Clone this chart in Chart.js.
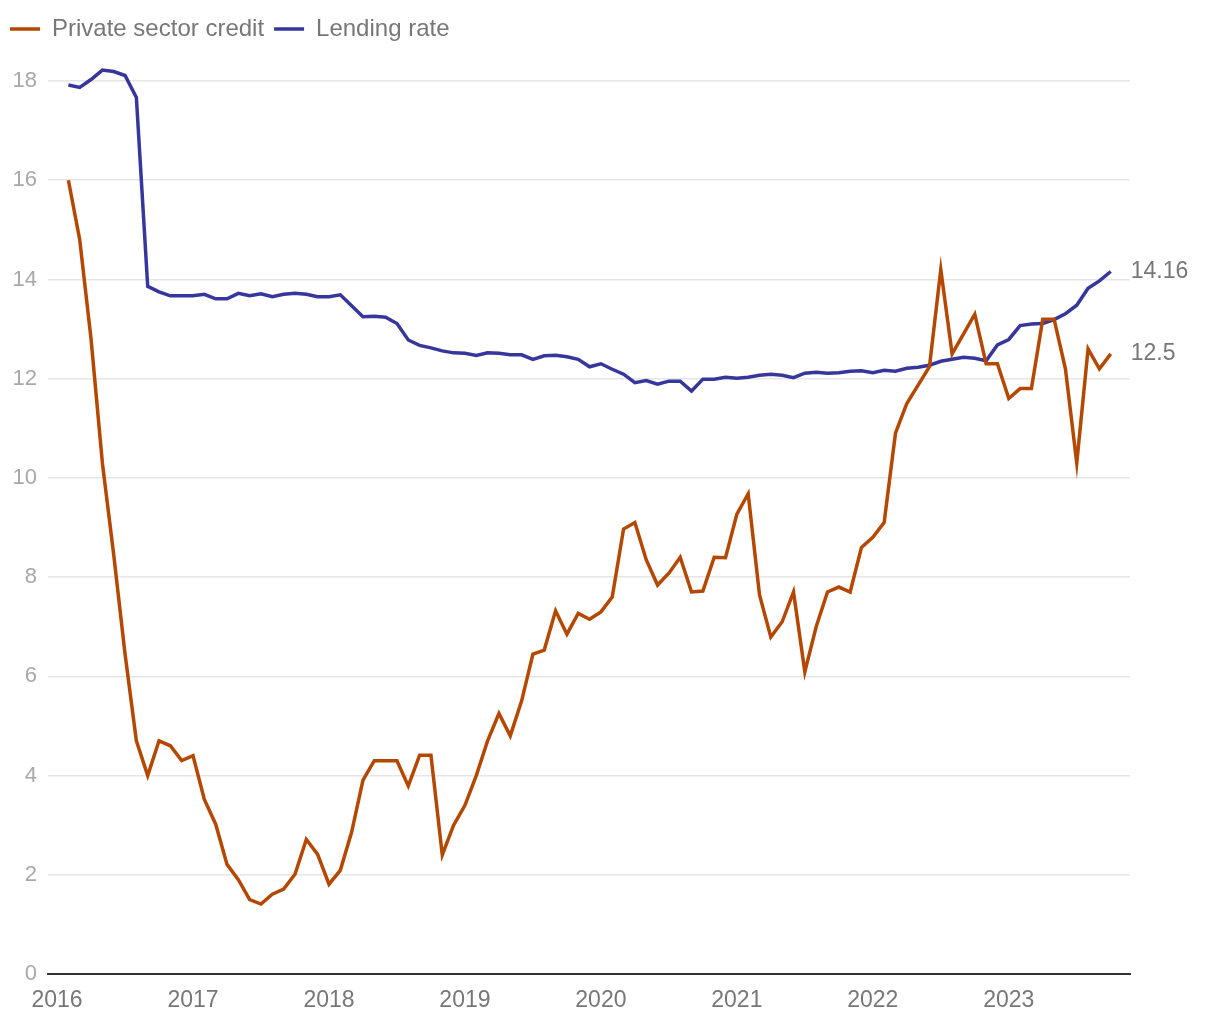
<!DOCTYPE html>
<html>
<head>
<meta charset="utf-8">
<script src="https://cdn.jsdelivr.net/npm/chart.js@4.4.1/dist/chart.umd.min.js"></script>
<style>
  html, body { margin: 0; background: #fff; }
  #wrap { width: 1220px; height: 1020px; }
</style>
</head>
<body>
<div id="wrap"><canvas id="chart"></canvas></div>
<script>
// monthly, Jan 2016 .. Sep 2023
const years = ["2016", "2017", "2018", "2019", "2020", "2021", "2022", "2023"];

const credit = [
  16.0, 14.8, 12.8, 10.3, 8.45, 6.45, 4.7, 4.0, 4.7, 4.6, 4.3, 4.4,
  3.52, 3.02, 2.21, 1.9, 1.5, 1.41, 1.61, 1.71, 2.01, 2.71, 2.41, 1.81,
  2.09, 2.86, 3.91, 4.3, 4.3, 4.3, 3.79, 4.41, 4.41, 2.4, 3.0, 3.4,
  4.0, 4.7, 5.25, 4.8, 5.5, 6.45, 6.53, 7.32, 6.85, 7.27, 7.15, 7.3,
  7.6, 8.97, 9.1, 8.35, 7.84, 8.08, 8.4, 7.7, 7.72, 8.4, 8.39, 9.27,
  9.68, 7.64, 6.79, 7.1, 7.7, 6.09, 7.0, 7.7, 7.8, 7.7, 8.6, 8.8,
  9.1, 10.9, 11.5, 11.87, 12.24, 14.2, 12.5, 12.9, 13.3, 12.3, 12.3, 11.6,
  11.8, 11.8, 13.2, 13.2, 12.2, 10.3, 12.6, 12.2, 12.5
];

const lending = [
  17.92, 17.87, 18.03, 18.22, 18.19, 18.11, 17.67, 13.86, 13.75, 13.67, 13.67, 13.67,
  13.7, 13.61, 13.61, 13.72, 13.67, 13.71, 13.65, 13.7, 13.72, 13.7, 13.65, 13.65,
  13.69, 13.47, 13.25, 13.26, 13.24, 13.11, 12.78, 12.67, 12.62, 12.56, 12.52, 12.51,
  12.47, 12.52, 12.51, 12.48, 12.48, 12.39, 12.46, 12.47, 12.44, 12.39, 12.24, 12.3,
  12.19, 12.09, 11.92, 11.96, 11.89, 11.95, 11.95, 11.75, 11.99, 11.99, 12.03, 12.01,
  12.03, 12.07, 12.09, 12.07, 12.02, 12.11, 12.13, 12.11, 12.12, 12.15, 12.16, 12.12,
  12.17, 12.15, 12.21, 12.23, 12.27, 12.35, 12.39, 12.43, 12.41, 12.36, 12.68, 12.79,
  13.07, 13.1, 13.11, 13.19, 13.31, 13.48, 13.82, 13.97, 14.16
];

const FONT = "'Liberation Sans', Arial, Helvetica, sans-serif";

// x = months since start of 2016, value sits at month end
const toPoints = (arr) => arr.map((v, i) => ({ x: i + 1, y: v }));

const legendGap = {
  id: "legendGap",
  beforeInit(chart) {
    const fit = chart.legend.fit;
    chart.legend.fit = function () {
      fit.call(this);
      this.height += 30;
    };
  }
};

const endLabels = {
  id: "endLabels",
  afterDatasetsDraw(chart) {
    const ctx = chart.ctx;
    ctx.save();
    ctx.font = "23px " + FONT;
    ctx.fillStyle = "#777";
    ctx.textBaseline = "middle";
    chart.data.datasets.forEach((ds, i) => {
      const pts = chart.getDatasetMeta(i).data;
      const last = pts[pts.length - 1];
      ctx.fillText(String(ds.data[ds.data.length - 1].y), last.x + 20, last.y);
    });
    ctx.restore();
  }
};

new Chart(document.getElementById("chart"), {
  type: "line",
  data: {
    datasets: [
      {
        label: "Private sector credit",
        data: toPoints(credit),
        borderColor: "#b54800",
        backgroundColor: "#b54800",
        borderWidth: 3.5,
        pointRadius: 0,
        tension: 0,
        clip: false
      },
      {
        label: "Lending rate",
        data: toPoints(lending),
        borderColor: "#36369c",
        backgroundColor: "#36369c",
        borderWidth: 3.5,
        pointRadius: 0,
        tension: 0,
        clip: false
      }
    ]
  },
  options: {
    responsive: true,
    maintainAspectRatio: false,
    animation: false,
    layout: { padding: { top: 7, right: 90, left: 0, bottom: 0 } },
    plugins: {
      legend: {
        position: "top",
        align: "start",
        labels: {
          usePointStyle: true,
          pointStyle: "line",
          pointStyleWidth: 30,
          padding: 10,
          color: "#777",
          font: { family: FONT, size: 24 }
        }
      },
      tooltip: { enabled: false }
    },
    scales: {
      x: {
        type: "linear",
        min: -0.8,
        max: 94.7,
        afterBuildTicks: (s) => { s.ticks = years.map((y, i) => ({ value: i * 12 })); },
        afterFit: (s) => { s.height = 46; },
        grid: { display: false, drawTicks: false },
        border: { display: true, color: "#333", width: 2 },
        ticks: {
          autoSkip: false,
          maxRotation: 0,
          padding: 13,
          color: "#777",
          font: { family: FONT, size: 23 },
          callback: (v) => years[Math.round(v / 12)]
        }
      },
      y: {
        min: 0,
        max: 18,
        afterFit: (s) => { s.width = 48; },
        grid: { color: "#e6e6e6", lineWidth: 1.5, drawTicks: false },
        border: { display: false },
        ticks: {
          stepSize: 2,
          padding: 11,
          color: "#a8a8a8",
          font: { family: FONT, size: 22 }
        }
      }
    }
  },
  plugins: [legendGap, endLabels]
});
</script>
</body>
</html>
